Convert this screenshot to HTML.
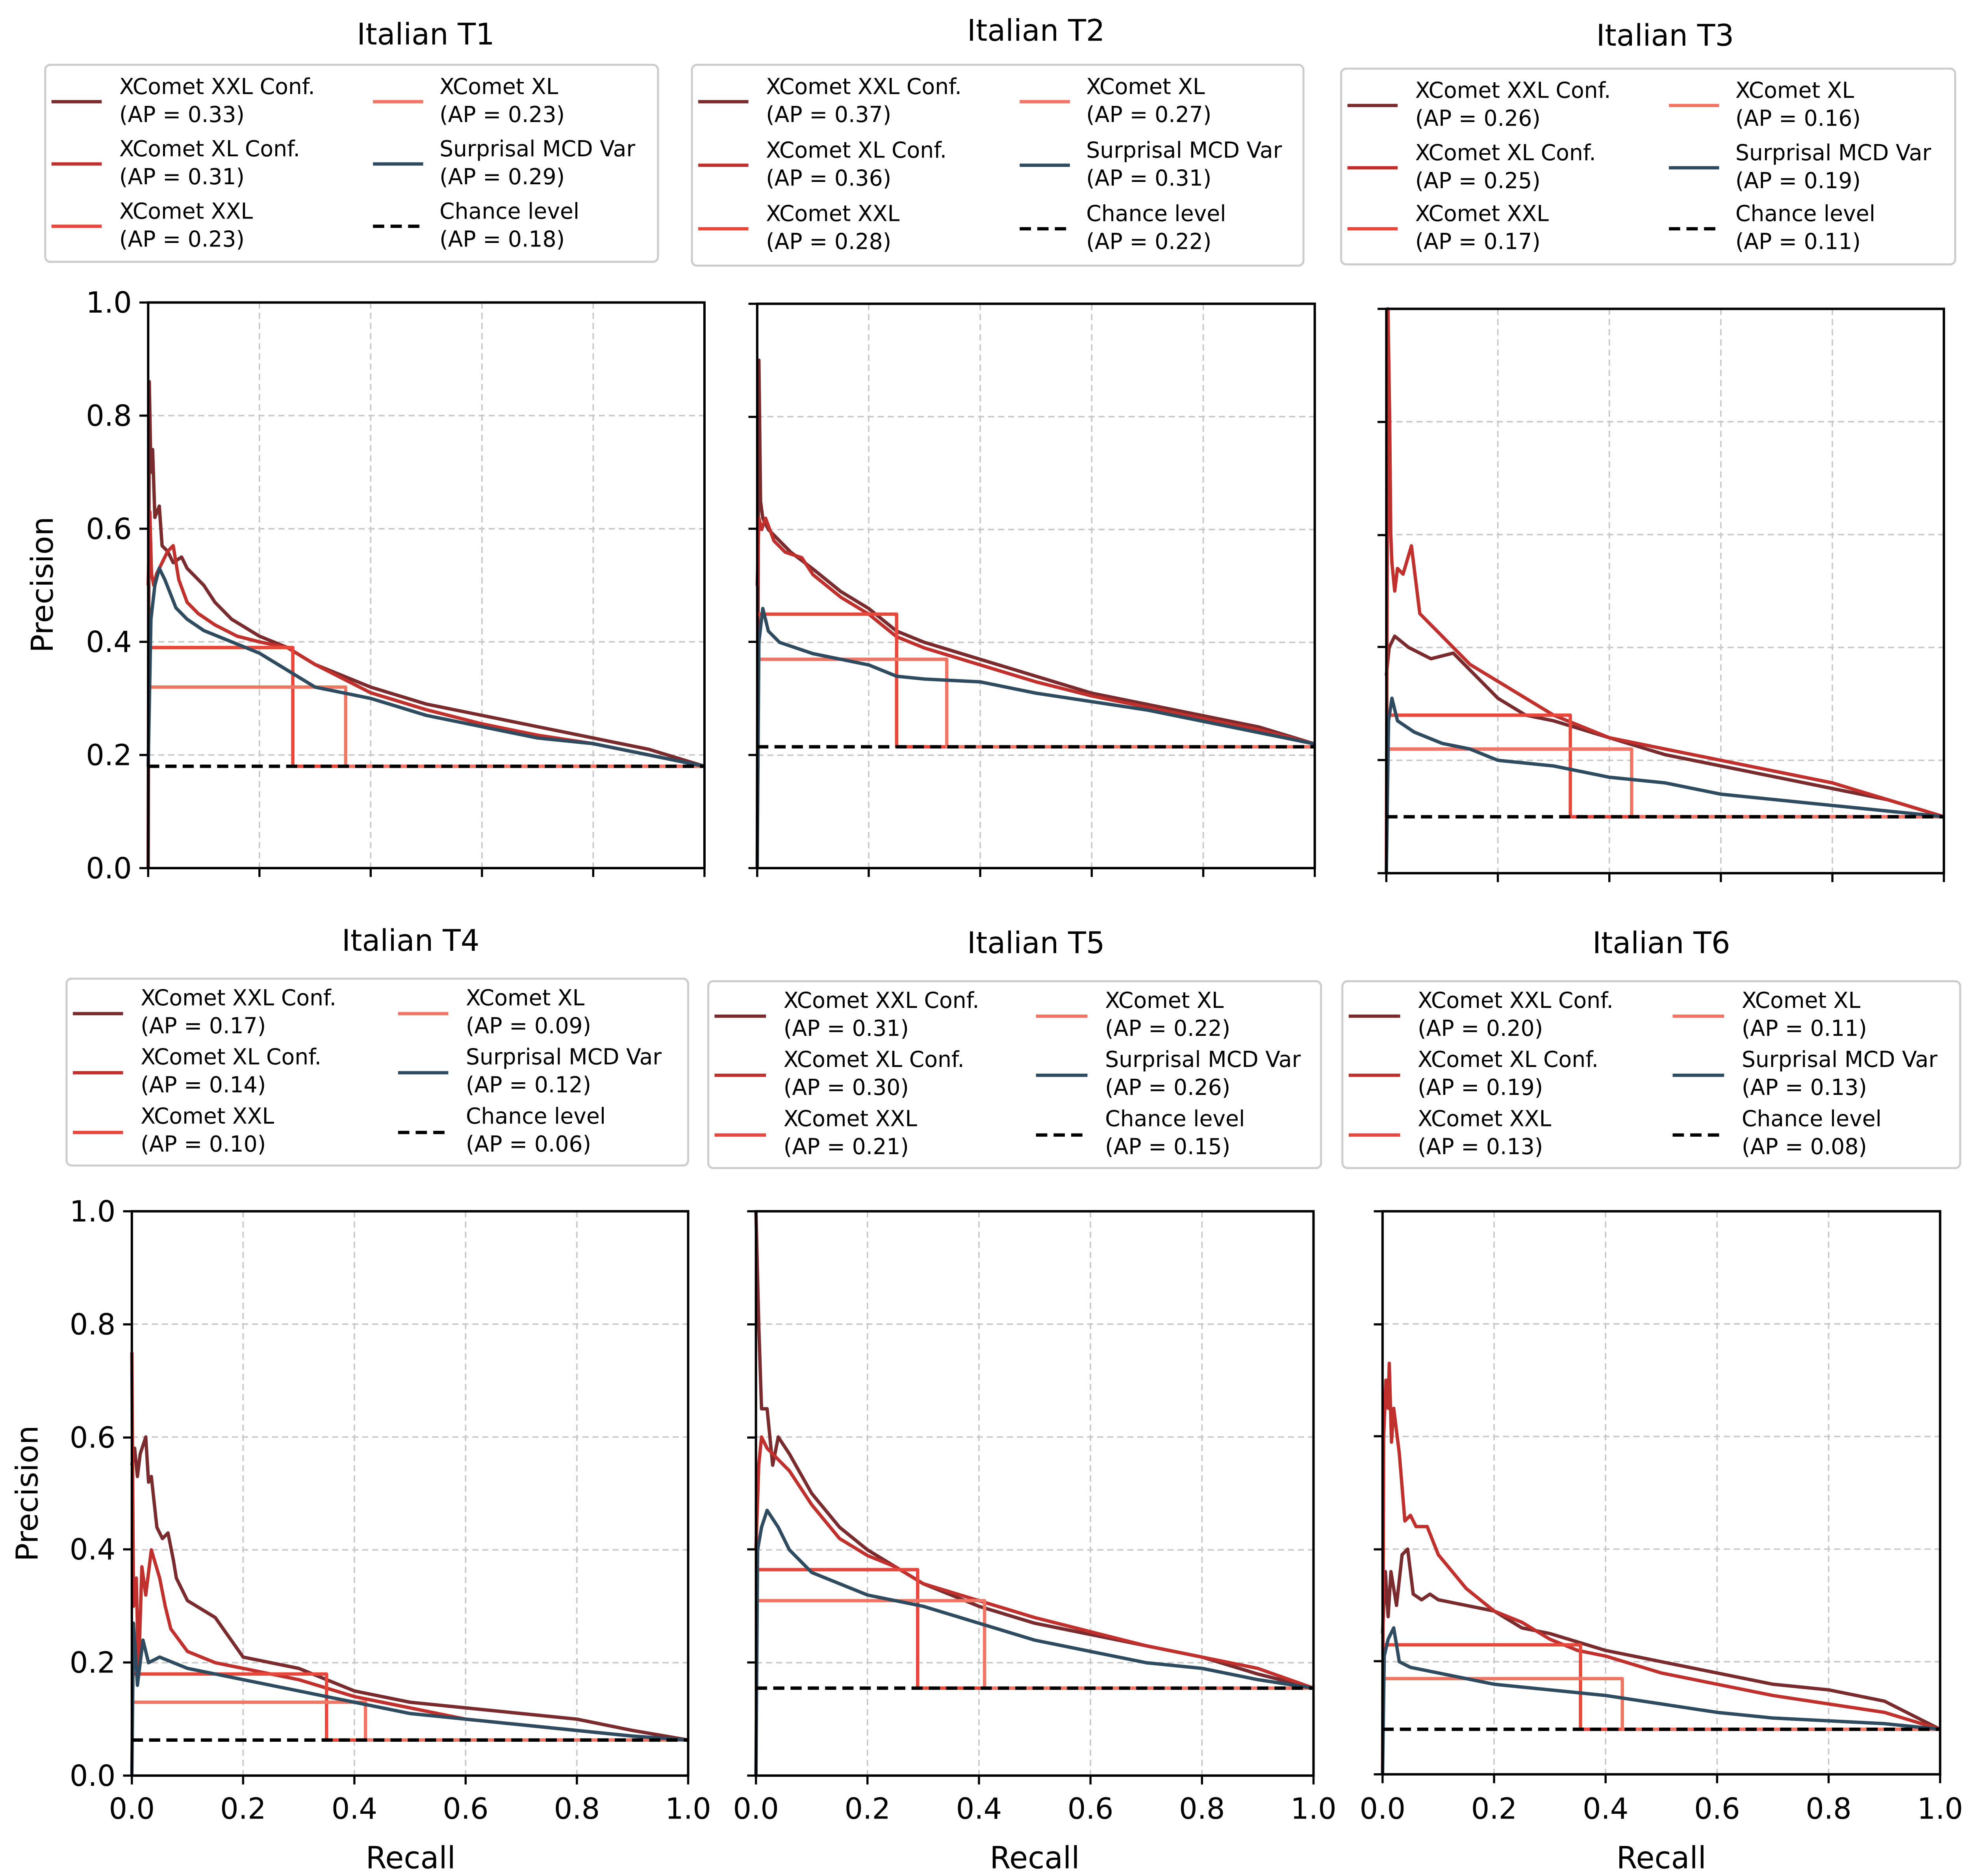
<!DOCTYPE html>
<html><head><meta charset="utf-8"><style>
html,body{margin:0;padding:0;background:#fff;overflow:hidden;}
svg.root{display:block;width:100vw;height:100vh;}
text{font-family:"DejaVu Sans","Liberation Sans",sans-serif;fill:#000;}
.g{stroke:#c8c8c8;stroke-width:2.6;stroke-dasharray:11,7;fill:none;}
.c{fill:none;stroke-width:2.6;stroke-linejoin:round;}
.a{stroke:#7a2b2e;}.b{stroke:#c0302c;}.d{stroke:#e8473b;}.e{stroke:#ef7565;}.s{stroke:#2f4b5f;}
.ch{fill:none;stroke:#000;stroke-width:2.6;stroke-dasharray:9,5;}
.in .c{stroke-width:6;}
.in .ch{stroke-width:6;stroke-dasharray:20,11;}
.fr{fill:none;stroke:#000;stroke-width:1.9;}
.tk{stroke:#000;stroke-width:1.7;}
.lg{fill:#fff;stroke:#ccc;stroke-width:1.6;}
.lt{font-size:17.3px;}
.tt{font-size:23.5px;}
.tl{font-size:23px;}
.al{font-size:24px;}
</style></head><body>
<svg class="root" width="5062" height="4765" viewBox="0 0 1568 1476" preserveAspectRatio="none" xmlns="http://www.w3.org/2000/svg">
<defs>
<g id="grid">
<path class="g" d="M200,0V1000M400,0V1000M600,0V1000M800,0V1000M0,200H1000M0,400H1000M0,600H1000M0,800H1000"/>
</g>
</defs>

<!-- ===== Panel 1 ===== -->
<text class="tt" x="339" y="35" text-anchor="middle">Italian T1</text>
<g transform="translate(36,51)">
<rect class="lg" x="0" y="0" width="488" height="155" rx="4"/>
<line class="c a" x1="5" y1="29" x2="45" y2="29"/><text class="lt" x="59" y="23">XComet XXL Conf.</text><text class="lt" x="59" y="45">(AP = 0.33)</text>
<line class="c b" x1="5" y1="78" x2="45" y2="78"/><text class="lt" x="59" y="72">XComet XL Conf.</text><text class="lt" x="59" y="94">(AP = 0.31)</text>
<line class="c d" x1="5" y1="127" x2="45" y2="127"/><text class="lt" x="59" y="121">XComet XXL</text><text class="lt" x="59" y="143">(AP = 0.23)</text>
<line class="c e" x1="261" y1="29" x2="301" y2="29"/><text class="lt" x="314" y="23">XComet XL</text><text class="lt" x="314" y="45">(AP = 0.23)</text>
<line class="c s" x1="261" y1="78" x2="301" y2="78"/><text class="lt" x="314" y="72">Surprisal MCD Var</text><text class="lt" x="314" y="94">(AP = 0.29)</text>
<line class="ch" x1="261" y1="127" x2="301" y2="127"/><text class="lt" x="314" y="121">Chance level</text><text class="lt" x="314" y="143">(AP = 0.18)</text>
</g>
<svg class="in" x="118" y="238" width="443" height="445" viewBox="0 0 1000 1000" preserveAspectRatio="none" overflow="visible">
<use href="#grid"/>
<polyline class="c a" points="0,1000 2,140 5,300 8,260 12,380 20,360 25,430 35,440 45,460 60,450 70,470 80,480 100,500 120,530 150,560 200,590 250,610 300,640 350,660 400,680 500,710 600,730 700,750 800,770 900,790 1000,820"/>
<polyline class="c b" points="0,500 3,370 6,480 10,500 15,480 25,460 35,440 45,430 55,490 70,530 90,550 120,570 160,590 200,600 250,610 300,640 400,690 500,720 600,745 700,765 800,780 900,800 1000,820"/>
<polyline class="c d" points="0,610 260,610 260,820 1000,820"/>
<polyline class="c e" points="0,680 355,680 355,820 1000,820"/>
<polyline class="c s" points="0,820 5,560 12,500 20,470 30,490 50,540 70,560 100,580 150,600 200,620 250,650 300,680 400,700 500,730 600,750 700,770 800,780 900,800 1000,820"/>
<polyline class="ch" points="0,820 1000,820"/>
</svg>
<rect class="fr" x="118" y="238" width="443" height="445"/>
<path class="tk" d="M118,683v7M206.6,683v7M295.2,683v7M383.8,683v7M472.4,683v7M561,683v7M118,683h-7M118,594h-7M118,505h-7M118,416h-7M118,327h-7M118,238h-7"/>
<g class="tl" text-anchor="end"><text x="105" y="691">0.0</text><text x="105" y="602">0.2</text><text x="105" y="513">0.4</text><text x="105" y="424">0.6</text><text x="105" y="335">0.8</text><text x="105" y="246">1.0</text></g>
<text class="al" transform="translate(42,460) rotate(-90)" text-anchor="middle">Precision</text>

<!-- ===== Panel 2 ===== -->
<text class="tt" x="825" y="32" text-anchor="middle">Italian T2</text>
<g transform="translate(551,51)">
<rect class="lg" x="0" y="0" width="487" height="158" rx="4"/>
<line class="c a" x1="5" y1="29" x2="45" y2="29"/><text class="lt" x="59" y="23">XComet XXL Conf.</text><text class="lt" x="59" y="45">(AP = 0.37)</text>
<line class="c b" x1="5" y1="79" x2="45" y2="79"/><text class="lt" x="59" y="73">XComet XL Conf.</text><text class="lt" x="59" y="95">(AP = 0.36)</text>
<line class="c d" x1="5" y1="129" x2="45" y2="129"/><text class="lt" x="59" y="123">XComet XXL</text><text class="lt" x="59" y="145">(AP = 0.28)</text>
<line class="c e" x1="261" y1="29" x2="301" y2="29"/><text class="lt" x="314" y="23">XComet XL</text><text class="lt" x="314" y="45">(AP = 0.27)</text>
<line class="c s" x1="261" y1="79" x2="301" y2="79"/><text class="lt" x="314" y="73">Surprisal MCD Var</text><text class="lt" x="314" y="95">(AP = 0.31)</text>
<line class="ch" x1="261" y1="129" x2="301" y2="129"/><text class="lt" x="314" y="123">Chance level</text><text class="lt" x="314" y="145">(AP = 0.22)</text>
</g>
<svg class="in" x="603" y="239" width="444" height="444" viewBox="0 0 1000 1000" preserveAspectRatio="none" overflow="visible">
<use href="#grid"/>
<polyline class="c a" points="0,1000 3,100 6,350 10,380 20,400 40,420 60,440 100,470 150,510 200,540 250,580 300,600 400,630 500,660 600,690 700,710 800,730 900,750 1000,780"/>
<polyline class="c b" points="0,500 3,380 8,400 15,380 30,420 50,440 80,450 100,480 150,520 200,550 250,590 300,610 400,640 500,670 600,695 700,715 800,735 900,755 1000,780"/>
<polyline class="c d" points="0,550 250,550 250,785 1000,785"/>
<polyline class="c e" points="0,630 340,630 340,785 1000,785"/>
<polyline class="c s" points="0,1000 3,600 10,540 20,580 40,600 70,610 100,620 150,630 200,640 250,660 300,665 400,670 500,690 600,705 700,720 800,740 900,760 1000,780"/>
<polyline class="ch" points="0,785 1000,785"/>
</svg>
<rect class="fr" x="603" y="239" width="444" height="444"/>
<path class="tk" d="M603,683v7M691.8,683v7M780.6,683v7M869.4,683v7M958.2,683v7M1047,683v7M603,683h-7M603,594h-7M603,505h-7M603,416h-7M603,328h-7M603,239h-7"/>

<!-- ===== Panel 3 ===== -->
<text class="tt" x="1326" y="36" text-anchor="middle">Italian T3</text>
<g transform="translate(1068,54)">
<rect class="lg" x="0" y="0" width="489" height="154" rx="4"/>
<line class="c a" x1="5" y1="29" x2="45" y2="29"/><text class="lt" x="59" y="23">XComet XXL Conf.</text><text class="lt" x="59" y="45">(AP = 0.26)</text>
<line class="c b" x1="5" y1="78" x2="45" y2="78"/><text class="lt" x="59" y="72">XComet XL Conf.</text><text class="lt" x="59" y="94">(AP = 0.25)</text>
<line class="c d" x1="5" y1="126" x2="45" y2="126"/><text class="lt" x="59" y="120">XComet XXL</text><text class="lt" x="59" y="142">(AP = 0.17)</text>
<line class="c e" x1="261" y1="29" x2="301" y2="29"/><text class="lt" x="314" y="23">XComet XL</text><text class="lt" x="314" y="45">(AP = 0.16)</text>
<line class="c s" x1="261" y1="78" x2="301" y2="78"/><text class="lt" x="314" y="72">Surprisal MCD Var</text><text class="lt" x="314" y="94">(AP = 0.19)</text>
<line class="ch" x1="261" y1="126" x2="301" y2="126"/><text class="lt" x="314" y="120">Chance level</text><text class="lt" x="314" y="142">(AP = 0.11)</text>
</g>
<svg class="in" x="1104" y="243" width="444" height="444" viewBox="0 0 1000 1000" preserveAspectRatio="none" overflow="visible">
<use href="#grid"/>
<polyline class="c a" points="0,650 5,600 15,580 40,600 80,620 120,610 150,640 200,690 250,720 300,730 400,760 500,790 600,810 700,830 800,850 900,870 1000,900"/>
<polyline class="c b" points="0,1000 3,0 6,200 8,400 10,450 15,500 20,460 30,470 45,420 60,540 80,560 100,580 150,630 200,660 250,690 300,720 350,740 400,760 500,780 600,800 700,820 800,840 900,870 1000,900"/>
<polyline class="c d" points="0,720 330,720 330,900 1000,900"/>
<polyline class="c e" points="0,780 440,780 440,900 1000,900"/>
<polyline class="c s" points="0,1000 4,730 10,690 20,730 50,750 100,770 150,780 200,800 300,810 400,830 500,840 600,860 700,870 800,880 900,890 1000,900"/>
<polyline class="ch" points="0,900 1000,900"/>
</svg>
<rect class="fr" x="1104" y="243" width="444" height="444"/>
<path class="tk" d="M1104,687v7M1192.8,687v7M1281.6,687v7M1370.4,687v7M1459.2,687v7M1548,687v7M1104,687h-7M1104,598h-7M1104,509h-7M1104,421h-7M1104,332h-7M1104,243h-7"/>

<!-- ===== Panel 4 ===== -->
<text class="tt" x="327" y="748" text-anchor="middle">Italian T4</text>
<g transform="translate(53,770)">
<rect class="lg" x="0" y="0" width="495" height="147" rx="4"/>
<line class="c a" x1="5" y1="27.5" x2="45" y2="27.5"/><text class="lt" x="59" y="21">XComet XXL Conf.</text><text class="lt" x="59" y="43">(AP = 0.17)</text>
<line class="c b" x1="5" y1="74" x2="45" y2="74"/><text class="lt" x="59" y="67.5">XComet XL Conf.</text><text class="lt" x="59" y="89.5">(AP = 0.14)</text>
<line class="c d" x1="5" y1="121" x2="45" y2="121"/><text class="lt" x="59" y="114">XComet XXL</text><text class="lt" x="59" y="136">(AP = 0.10)</text>
<line class="c e" x1="264" y1="27.5" x2="304" y2="27.5"/><text class="lt" x="318" y="21">XComet XL</text><text class="lt" x="318" y="43">(AP = 0.09)</text>
<line class="c s" x1="264" y1="74" x2="304" y2="74"/><text class="lt" x="318" y="67.5">Surprisal MCD Var</text><text class="lt" x="318" y="89.5">(AP = 0.12)</text>
<line class="ch" x1="264" y1="121" x2="304" y2="121"/><text class="lt" x="318" y="114">Chance level</text><text class="lt" x="318" y="136">(AP = 0.06)</text>
</g>
<svg class="in" x="105" y="953" width="443" height="444" viewBox="0 0 1000 1000" preserveAspectRatio="none" overflow="visible">
<use href="#grid"/>
<polyline class="c a" points="0,450 5,420 10,470 15,430 25,400 30,480 35,470 45,560 55,580 65,570 75,620 80,650 100,690 150,720 200,790 250,800 300,810 350,830 400,850 500,870 600,880 700,890 800,900 900,920 1000,937"/>
<polyline class="c b" points="0,250 3,700 8,650 12,820 18,630 25,680 35,600 50,650 60,700 70,740 100,780 150,800 200,810 300,830 400,860 500,880 600,900 700,910 800,920 900,930 1000,937"/>
<polyline class="c d" points="0,820 350,820 350,937 1000,937"/>
<polyline class="c e" points="0,870 420,870 420,937 1000,937"/>
<polyline class="c s" points="0,1000 3,730 10,840 20,760 30,800 50,790 100,810 150,820 200,830 300,850 400,870 500,890 600,900 700,910 800,920 900,930 1000,937"/>
<polyline class="ch" points="0,937 1000,937"/>
</svg>
<rect class="fr" x="105" y="953" width="443" height="444"/>
<path class="tk" d="M105,1397v7M193.6,1397v7M282.2,1397v7M370.8,1397v7M459.4,1397v7M548,1397v7M105,1397h-7M105,1308h-7M105,1219h-7M105,1131h-7M105,1042h-7M105,953h-7"/>
<g class="tl" text-anchor="end"><text x="92" y="1405">0.0</text><text x="92" y="1316">0.2</text><text x="92" y="1227">0.4</text><text x="92" y="1139">0.6</text><text x="92" y="1050">0.8</text><text x="92" y="961">1.0</text></g>
<g class="tl" text-anchor="middle"><text x="105" y="1431">0.0</text><text x="193.6" y="1431">0.2</text><text x="282.2" y="1431">0.4</text><text x="370.8" y="1431">0.6</text><text x="459.4" y="1431">0.8</text><text x="548" y="1431">1.0</text></g>
<text class="al" x="327" y="1470" text-anchor="middle">Recall</text>
<text class="al" transform="translate(30,1175) rotate(-90)" text-anchor="middle">Precision</text>

<!-- ===== Panel 5 ===== -->
<text class="tt" x="825" y="750" text-anchor="middle">Italian T5</text>
<g transform="translate(564,772)">
<rect class="lg" x="0" y="0" width="488" height="147" rx="4"/>
<line class="c a" x1="5" y1="27.5" x2="46" y2="27.5"/><text class="lt" x="60" y="21">XComet XXL Conf.</text><text class="lt" x="60" y="43">(AP = 0.31)</text>
<line class="c b" x1="5" y1="74" x2="46" y2="74"/><text class="lt" x="60" y="67.5">XComet XL Conf.</text><text class="lt" x="60" y="89.5">(AP = 0.30)</text>
<line class="c d" x1="5" y1="121" x2="46" y2="121"/><text class="lt" x="60" y="114">XComet XXL</text><text class="lt" x="60" y="136">(AP = 0.21)</text>
<line class="c e" x1="261" y1="27.5" x2="302" y2="27.5"/><text class="lt" x="316" y="21">XComet XL</text><text class="lt" x="316" y="43">(AP = 0.22)</text>
<line class="c s" x1="261" y1="74" x2="302" y2="74"/><text class="lt" x="316" y="67.5">Surprisal MCD Var</text><text class="lt" x="316" y="89.5">(AP = 0.26)</text>
<line class="ch" x1="261" y1="121" x2="302" y2="121"/><text class="lt" x="316" y="114">Chance level</text><text class="lt" x="316" y="136">(AP = 0.15)</text>
</g>
<svg class="in" x="602" y="953" width="444" height="444" viewBox="0 0 1000 1000" preserveAspectRatio="none" overflow="visible">
<use href="#grid"/>
<polyline class="c a" points="0,0 5,200 10,350 20,350 30,450 40,400 60,430 100,500 150,560 200,600 250,630 300,660 400,700 500,730 600,750 700,770 800,790 900,820 1000,845"/>
<polyline class="c b" points="0,600 5,450 10,400 20,420 40,440 60,460 100,520 150,580 200,610 250,630 300,660 400,690 500,720 600,745 700,770 800,790 900,810 1000,845"/>
<polyline class="c d" points="0,635 290,635 290,845 1000,845"/>
<polyline class="c e" points="0,690 410,690 410,845 1000,845"/>
<polyline class="c s" points="0,1000 3,600 10,560 20,530 40,560 60,600 100,640 150,660 200,680 300,700 400,730 500,760 600,780 700,800 800,810 900,830 1000,845"/>
<polyline class="ch" points="0,845 1000,845"/>
</svg>
<rect class="fr" x="602" y="953" width="444" height="444"/>
<path class="tk" d="M602,1397v7M690.8,1397v7M779.6,1397v7M868.4,1397v7M957.2,1397v7M1046,1397v7M602,1397h-7M602,1308h-7M602,1219h-7M602,1131h-7M602,1042h-7M602,953h-7"/>
<g class="tl" text-anchor="middle"><text x="602" y="1431">0.0</text><text x="690.8" y="1431">0.2</text><text x="779.6" y="1431">0.4</text><text x="868.4" y="1431">0.6</text><text x="957.2" y="1431">0.8</text><text x="1046" y="1431">1.0</text></g>
<text class="al" x="824" y="1470" text-anchor="middle">Recall</text>

<!-- ===== Panel 6 ===== -->
<text class="tt" x="1323" y="750" text-anchor="middle">Italian T6</text>
<g transform="translate(1069,772)">
<rect class="lg" x="0" y="0" width="492" height="147" rx="4"/>
<line class="c a" x1="5" y1="27.5" x2="46" y2="27.5"/><text class="lt" x="60" y="21">XComet XXL Conf.</text><text class="lt" x="60" y="43">(AP = 0.20)</text>
<line class="c b" x1="5" y1="74" x2="46" y2="74"/><text class="lt" x="60" y="67.5">XComet XL Conf.</text><text class="lt" x="60" y="89.5">(AP = 0.19)</text>
<line class="c d" x1="5" y1="121" x2="46" y2="121"/><text class="lt" x="60" y="114">XComet XXL</text><text class="lt" x="60" y="136">(AP = 0.13)</text>
<line class="c e" x1="263" y1="27.5" x2="304" y2="27.5"/><text class="lt" x="318" y="21">XComet XL</text><text class="lt" x="318" y="43">(AP = 0.11)</text>
<line class="c s" x1="263" y1="74" x2="304" y2="74"/><text class="lt" x="318" y="67.5">Surprisal MCD Var</text><text class="lt" x="318" y="89.5">(AP = 0.13)</text>
<line class="ch" x1="263" y1="121" x2="304" y2="121"/><text class="lt" x="318" y="114">Chance level</text><text class="lt" x="318" y="136">(AP = 0.08)</text>
</g>
<svg class="in" x="1101" y="953" width="444" height="443" viewBox="0 0 1000 1000" preserveAspectRatio="none" overflow="visible">
<use href="#grid"/>
<polyline class="c a" points="0,750 5,640 10,720 15,640 25,700 35,610 45,600 55,680 70,690 85,680 100,690 150,700 200,710 250,740 300,750 400,780 500,800 600,820 700,840 800,850 900,870 1000,920"/>
<polyline class="c b" points="0,1000 2,400 6,300 10,350 12,270 16,410 20,350 30,430 40,550 50,540 60,560 80,560 100,610 150,670 200,710 250,730 300,760 350,780 400,790 500,820 600,840 700,860 800,875 900,890 1000,920"/>
<polyline class="c d" points="0,770 355,770 355,920 1000,920"/>
<polyline class="c e" points="0,830 430,830 430,920 1000,920"/>
<polyline class="c s" points="0,1000 3,790 10,760 20,740 30,800 50,810 100,820 200,840 300,850 400,860 500,875 600,890 700,900 800,905 900,910 1000,920"/>
<polyline class="ch" points="0,920 1000,920"/>
</svg>
<rect class="fr" x="1101" y="953" width="444" height="443"/>
<path class="tk" d="M1101,1396v7M1189.8,1396v7M1278.6,1396v7M1367.4,1396v7M1456.2,1396v7M1545,1396v7M1101,1396h-7M1101,1307h-7M1101,1219h-7M1101,1130h-7M1101,1042h-7M1101,953h-7"/>
<g class="tl" text-anchor="middle"><text x="1101" y="1431">0.0</text><text x="1189.8" y="1431">0.2</text><text x="1278.6" y="1431">0.4</text><text x="1367.4" y="1431">0.6</text><text x="1456.2" y="1431">0.8</text><text x="1545" y="1431">1.0</text></g>
<text class="al" x="1323" y="1470" text-anchor="middle">Recall</text>
</svg>
</body></html>
